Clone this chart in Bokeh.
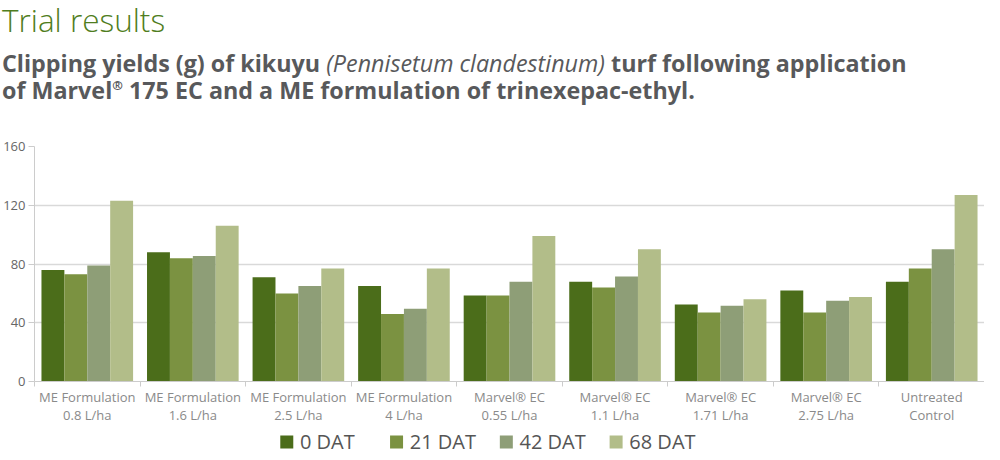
import numpy as np
from bokeh.core.properties import value
from bokeh.embed import file_html
from bokeh.layouts import column
from bokeh.models import Div, FixedTicker, Range1d
from bokeh.plotting import figure
from bokeh.resources import INLINE

categories = ["ME Formulation\n0.8 L/ha", "ME Formulation\n1.6 L/ha", "ME Formulation\n2.5 L/ha",
              "ME Formulation\n4 L/ha", "Marvel® EC\n0.55 L/ha", "Marvel® EC\n1.1 L/ha",
              "Marvel® EC\n1.71 L/ha", "Marvel® EC\n2.75 L/ha", "Untreated\nControl"]
series_names = ["0 DAT", "21 DAT", "42 DAT", "68 DAT"]
dat_0 = [76, 88, 71, 65, 58.5, 68, 52.5, 62, 68]
dat_21 = [73, 84, 60, 46, 58.5, 64, 47, 47, 77]
dat_42 = [79, 85.5, 65, 49.5, 68, 71.5, 51.5, 55, 90]
dat_68 = [123, 106, 77, 77, 99, 90, 56, 57.5, 127]
y_ticks = [0, 40, 80, 120, 160]

colors = ["#4b6d1a", "#7b9241", "#8e9e77", "#b2bd89"]

# heading block (html so the italic species name can sit inside the bold line)
head = Div(width=984, height=124, text=(
    '<div style="font-family:\'Open Sans\';margin:0;padding:0">'
    '<div style="font-size:31.5px;font-weight:300;color:#4f7d20;line-height:30px;margin:0 0 0 -3px">'
    'Trial results</div>'
    '<div style="font-size:23.3px;font-weight:bold;color:#58595b;line-height:27px;margin:15px 0 0 -3px">'
    'Clipping yields (g) of kikuyu <i style="font-weight:normal">(Pennisetum clandestinum)</i> '
    'turf following application<br>of Marvel<sup style="font-size:55%;line-height:0">®</sup> 175 EC '
    'and a ME formulation of trinexepac-ethyl.</div></div>'))

# chart
p = figure(width=984, height=292, x_range=Range1d(0, len(categories)), y_range=Range1d(0, 160),
           toolbar_location=None, output_backend="svg", min_border_top=12, min_border_right=0,
           min_border_left=26, min_border_bottom=34)
p.outline_line_color = None
p.xgrid.visible = False
p.ygrid.grid_line_color = "#d9d9d9"
p.ygrid.grid_line_width = 1.5

centers = np.arange(len(categories)) + 0.5
width = 0.217
offsets = [-1.5 * width, -0.5 * width, 0.5 * width, 1.5 * width]
for vals, col, off in zip([dat_0, dat_21, dat_42, dat_68], colors, offsets):
    p.vbar(x=centers + off, top=vals, bottom=0, width=width, fill_color=col, line_color=None)

p.yaxis.ticker = FixedTicker(ticks=y_ticks)
p.yaxis.major_label_text_font = "Open Sans"
p.yaxis.major_label_text_font_size = "13px"
p.yaxis.major_label_text_color = "#666666"
p.yaxis.major_label_standoff = 3
p.yaxis.axis_line_color = "#cccccc"
p.yaxis.major_tick_line_color = "#cccccc"
p.yaxis.major_tick_in = 0
p.yaxis.major_tick_out = 6
p.yaxis.minor_tick_line_color = None

p.xaxis.ticker = FixedTicker(ticks=list(centers), minor_ticks=list(range(len(categories) + 1)))
p.xaxis.major_label_overrides = {float(c): lab for c, lab in zip(centers, categories)}
p.xaxis.major_label_text_font = "Open Sans"
p.xaxis.major_label_text_font_size = "13px"
p.xaxis.major_label_text_line_height = 1.0
p.xaxis.major_label_text_color = "#8a8a8a"
p.xaxis.major_label_standoff = 0
p.xaxis.axis_line_color = "#cccccc"
p.xaxis.major_tick_line_color = None
p.xaxis.minor_tick_line_color = "#cccccc"
p.xaxis.minor_tick_in = 0
p.xaxis.minor_tick_out = 5

# legend strip, sharing the chart's x range
leg = figure(width=984, height=28, x_range=p.x_range, y_range=Range1d(0, 1),
             toolbar_location=None, output_backend="svg", min_border_top=0, min_border_bottom=0,
             min_border_right=0, min_border_left=26, x_axis_location=None, y_axis_location=None)
leg.grid.visible = False
leg.outline_line_color = None
leg_x = 2.39 + 1.04 * np.arange(len(series_names))
leg.scatter(x=leg_x, y=[0.45] * len(series_names), marker="square", size=13, fill_color=colors,
            line_color=None)
leg.text(x=leg_x + 0.125, y=[0.45] * len(series_names), text=series_names, text_font=value("Open Sans"),
         text_font_size="20px", text_color="#555555", text_baseline="middle")

layout = column(head, p, leg)
open("out.html", "w").write(file_html(layout, INLINE))
